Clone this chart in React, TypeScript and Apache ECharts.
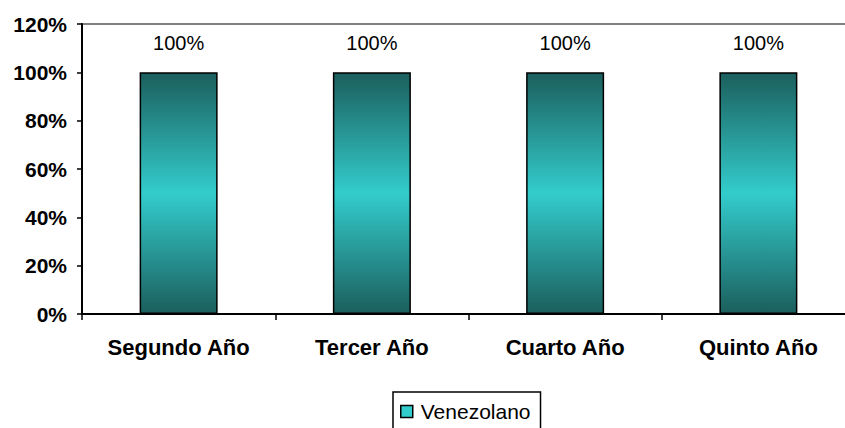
import React, { useEffect, useRef } from "react";
import * as echarts from "echarts";

const categories = ["Segundo Año", "Tercer Año", "Cuarto Año", "Quinto Año"];
const venezolano = [100, 100, 100, 100];
const seriesName = "Venezolano";

export default function App() {
  const ref = useRef<HTMLDivElement>(null);
  useEffect(() => {
    if (!ref.current) return;
    const chart = echarts.init(ref.current, undefined, { renderer: "svg" });
    const grad = new echarts.graphic.LinearGradient(0, 0, 0, 1, [
      { offset: 0, color: "#1b5f5d" },
      { offset: 0.5, color: "#33cccc" },
      { offset: 1, color: "#1b5f5d" },
    ]);
    const font = "Liberation Sans, Arial, sans-serif";
    chart.setOption({
      animation: false,
      backgroundColor: "#ffffff",
      grid: {
        left: 82,
        top: 24,
        width: 773,
        height: 290,
        show: true,
        borderColor: "#808080",
        borderWidth: 2,
        outerBoundsMode: "none",
      },
      legend: {
        data: [{ name: seriesName, icon: "rect" }],
        top: 392,
        left: 393,
        itemWidth: 12,
        itemHeight: 12,
        itemGap: 6,
        borderColor: "#000",
        borderWidth: 1.5,
        borderRadius: 0,
        padding: [9, 10, 12, 7],
        textStyle: {
          fontFamily: font,
          fontSize: 21,
          color: "#000",
          padding: [0, 0, 0, 3],
        },
        itemStyle: { color: "#33cccc", borderColor: "#000", borderWidth: 1.5 },
      },
      xAxis: {
        type: "category",
        data: categories,
        axisLine: { lineStyle: { color: "#000", width: 2 } },
        axisTick: { show: true, length: 6, lineStyle: { color: "#000", width: 1.5 } },
        axisLabel: {
          fontFamily: font,
          fontSize: 22,
          fontWeight: "bold",
          color: "#000",
          margin: 22,
        },
        splitLine: { show: false },
      },
      yAxis: {
        type: "value",
        min: 0,
        max: 120,
        interval: 20,
        axisLine: { show: true, lineStyle: { color: "#000", width: 2 } },
        axisTick: { show: true, length: 5, lineStyle: { color: "#000", width: 1.5 } },
        axisLabel: {
          formatter: "{value}%",
          fontFamily: font,
          fontSize: 21,
          fontWeight: "bold",
          color: "#000",
          margin: 15,
        },
        splitLine: { show: false },
      },
      series: [
        {
          name: seriesName,
          type: "bar",
          data: venezolano,
          barWidth: 78,
          itemStyle: { color: grad, borderColor: "#000", borderWidth: 1.5 },
          label: {
            show: true,
            position: "top",
            distance: 19,
            formatter: "{c}%",
            fontFamily: font,
            fontSize: 20,
            color: "#000",
          },
        },
      ],
    });
    return () => chart.dispose();
  }, []);
  return <div ref={ref} style={{ width: 845, height: 428, position: "absolute", left: 0, top: 0 }} />;
}
